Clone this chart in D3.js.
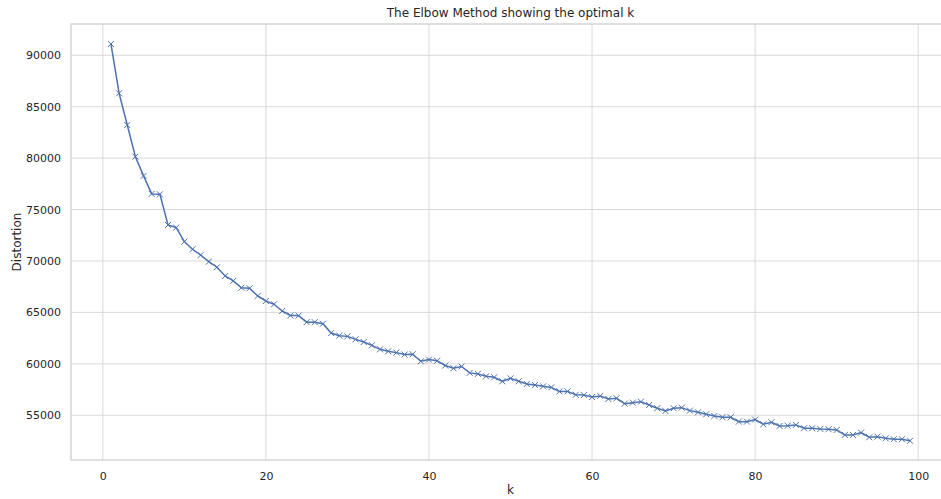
<!DOCTYPE html>
<html>
<head>
<meta charset="utf-8">
<script src="https://cdn.jsdelivr.net/npm/d3@7"></script>
<style>
  html, body { margin: 0; padding: 0; background: #fff; }
  svg { display: block; }
  text { font-family: "DejaVu Sans", sans-serif; fill: #262626; }
</style>
</head>
<body>
<svg id="chart" width="941" height="499"></svg>
<script>
const title = "The Elbow Method showing the optimal k";
const xLabel = "k";
const yLabel = "Distortion";
const kValues = d3.range(1, 100);
const distortion = [
  91100, 86300, 83220, 80140, 78270, 76520, 76480, 73500, 73240, 71880,
  71140, 70580, 69930, 69390, 68540, 68060, 67400, 67350, 66600, 66110,
  65790, 65140, 64700, 64690, 64050, 64050, 63900, 62990, 62740, 62670,
  62380, 62120, 61800, 61410, 61220, 61090, 60900, 60930, 60250, 60410,
  60300, 59830, 59570, 59740, 59120, 59020, 58790, 58690, 58300, 58590,
  58300, 58040, 57940, 57810, 57710, 57320, 57320, 56990, 56960, 56770,
  56880, 56585, 56650, 56130, 56225, 56320, 56000, 55680, 55420, 55680,
  55740, 55450, 55290, 55100, 54930, 54805, 54805, 54380, 54380, 54580,
  54125, 54320, 53960, 53990, 54060, 53740, 53740, 53670, 53640, 53570,
  53085, 53085, 53310, 52860, 52920, 52760, 52670, 52670, 52520
];
const xTicks = [0, 20, 40, 60, 80, 100];
const yTicks = [55000, 60000, 65000, 70000, 75000, 80000, 85000, 90000];

(function () {
const svg = d3.select("#chart");
const mLeft = 71, mTop = 24, mBottom = 460, mRight = 950;

const x = d3.scaleLinear().domain([-3.9, 103.9]).range([mLeft, mRight]);
const y = d3.scaleLinear().domain([50650, 93040]).range([mBottom, mTop]);

const gridColor = "#d9d9d9";

// grid
svg.append("g").selectAll("line").data(xTicks).join("line")
  .attr("x1", d => x(d)).attr("x2", d => x(d))
  .attr("y1", mTop).attr("y2", mBottom)
  .attr("stroke", gridColor).attr("stroke-width", 1);
svg.append("g").selectAll("line").data(yTicks).join("line")
  .attr("x1", mLeft).attr("x2", mRight)
  .attr("y1", d => y(d)).attr("y2", d => y(d))
  .attr("stroke", gridColor).attr("stroke-width", 1);

// spines
svg.append("rect")
  .attr("x", mLeft).attr("y", mTop)
  .attr("width", mRight - mLeft).attr("height", mBottom - mTop)
  .attr("fill", "none").attr("stroke", "#cccccc").attr("stroke-width", 1.25);

// axes (labels only)
const xAxis = d3.axisBottom(x).tickValues(xTicks).tickSize(0).tickPadding(12).tickFormat(d3.format("d"));
const gx = svg.append("g").attr("transform", `translate(0,${mBottom})`).call(xAxis);
gx.select(".domain").remove();
gx.selectAll("text").attr("font-size", 11).style("fill", "#262626");

const yAxis = d3.axisLeft(y).tickValues(yTicks).tickSize(0).tickPadding(10).tickFormat(d3.format("d"));
const gy = svg.append("g").attr("transform", `translate(${mLeft},0)`).call(yAxis);
gy.select(".domain").remove();
gy.selectAll("text").attr("font-size", 11).style("fill", "#262626");

// line
const data = kValues.map((k, i) => ({k, v: distortion[i]}));
const color = "#4c72b0";
svg.append("path").datum(data)
  .attr("fill", "none").attr("stroke", color).attr("stroke-width", 1.5)
  .attr("d", d3.line().x(d => x(d.k)).y(d => y(d.v)));

// x markers
const m = 3;
svg.append("g").selectAll("path").data(data).join("path")
  .attr("d", d => `M${x(d.k)-m},${y(d.v)-m}L${x(d.k)+m},${y(d.v)+m}M${x(d.k)-m},${y(d.v)+m}L${x(d.k)+m},${y(d.v)-m}`)
  .attr("stroke", color).attr("stroke-width", 1).attr("fill", "none");

// title and labels
svg.append("text").attr("x", (mLeft + mRight) / 2).attr("y", 17)
  .attr("text-anchor", "middle").attr("font-size", 12).text(title);
svg.append("text").attr("x", (mLeft + mRight) / 2).attr("y", 494)
  .attr("text-anchor", "middle").attr("font-size", 12).text(xLabel);
svg.append("text").attr("transform", `translate(21,${(mTop + mBottom) / 2}) rotate(-90)`)
  .attr("text-anchor", "middle").attr("font-size", 12).text(yLabel);
})();
</script>
</body>
</html>
